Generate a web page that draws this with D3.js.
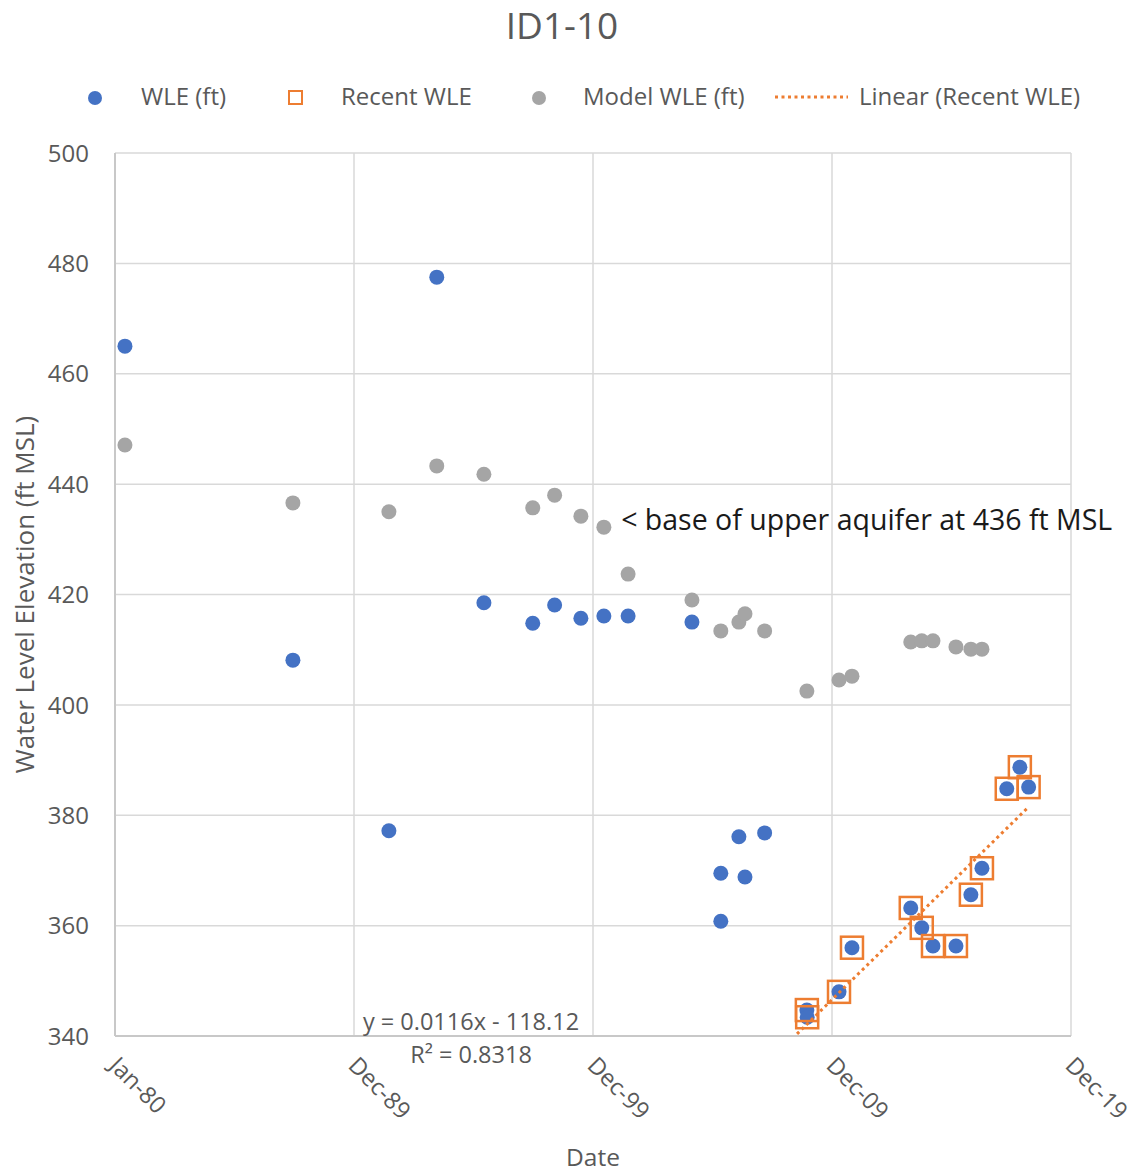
<!DOCTYPE html>
<html>
<head>
<meta charset="utf-8">
<script src="https://cdn.jsdelivr.net/npm/d3@7"></script>
<style>
  html, body { margin: 0; padding: 0; background: #fff; }
  svg { display: block; font-family: "Open Sans", "Noto Sans", sans-serif; }
</style>
</head>
<body>
<svg id="chart" width="1134" height="1173"></svg>
<script>
// WLE (ft) observations
const wleDates = [
  "1980-06-01", "1987-06-10", "1991-06-15", "1993-06-15", "1995-06-05", "1997-06-20",
  "1998-05-20", "1999-06-25", "2000-06-10", "2001-06-15", "2004-02-15", "2005-05-01",
  "2005-05-01", "2006-02-01", "2006-05-05", "2007-03-01", "2008-12-05", "2008-12-10",
  "2010-04-10", "2010-10-25", "2013-04-10", "2013-09-25", "2014-03-15", "2015-03-01",
  "2015-10-15", "2016-04-01", "2017-04-15", "2017-11-01", "2018-03-15"
];
const wleValues = [
  465.0, 408.1, 377.2, 477.5, 418.5, 414.8,
  418.1, 415.7, 416.1, 416.1, 415.0, 369.5,
  360.8, 376.1, 368.8, 376.8, 344.7, 343.4,
  348.0, 356.0, 363.2, 359.6, 356.3, 356.3,
  365.6, 370.4, 384.8, 388.7, 385.1
];

// Recent WLE (the orange squares)
const recentDates = [
  "2008-12-05", "2008-12-10", "2010-04-10", "2010-10-25", "2013-04-10", "2013-09-25",
  "2014-03-15", "2015-03-01", "2015-10-15", "2016-04-01", "2017-04-15", "2017-11-01",
  "2018-03-15"
];
const recentValues = [
  344.7, 343.4, 348.0, 356.0, 363.2, 359.6,
  356.3, 356.3, 365.6, 370.4, 384.8, 388.7,
  385.1
];

// Model WLE (ft)
const modelDates = [
  "1980-06-01", "1987-06-10", "1991-06-15", "1993-06-15", "1995-06-05", "1997-06-20",
  "1998-05-20", "1999-06-25", "2000-06-10", "2001-06-15", "2004-02-15", "2005-05-01",
  "2006-02-01", "2006-05-05", "2007-03-01", "2008-12-05", "2010-04-10", "2010-10-25",
  "2013-04-10", "2013-09-25", "2014-03-15", "2015-03-01", "2015-10-15", "2016-04-01"
];
const modelValues = [
  447.1, 436.6, 435.0, 443.3, 441.8, 435.7,
  438.0, 434.2, 432.2, 423.7, 419.0, 413.4,
  415.0, 416.5, 413.4, 402.5, 404.5, 405.2,
  411.4, 411.6, 411.6, 410.5, 410.1, 410.1
];

const yTicks = [340, 360, 380, 400, 420, 440, 460, 480, 500];
const xStart = "1980-01-01";
const xMajorDays = 3650;   // excel major unit
const xMajorCount = 4;
const trendBackDays = 150; // backward forecast on trendline
const equationLines = ["y = 0.0116x - 118.12", "R² = 0.8318"];
const note = "< base of upper aquifer at 436 ft MSL";
const noteAt = { date: "2001-03-01", value: 436 };

const colors = { wle: "#4472c4", recent: "#ed7d31", model: "#a5a5a5", grid: "#d9d9d9", text: "#595959" };

const parseDate = d3.timeParse("%Y-%m-%d");
const zip = (dates, values) => dates.map((d, i) => ({ date: parseDate(d), value: values[i] }));
const wle = zip(wleDates, wleValues);
const recent = zip(recentDates, recentValues);
const model = zip(modelDates, modelValues);

const margin = { top: 153, right: 63, bottom: 137, left: 115 };
const width = 1134, height = 1173;
const svg = d3.select("#chart");

const t0 = parseDate(xStart);
const xTickValues = d3.range(xMajorCount + 1).map(i => d3.timeDay.offset(t0, i * xMajorDays));

const x = d3.scaleTime()
  .domain([t0, xTickValues[xTickValues.length - 1]])
  .range([margin.left, width - margin.right]);
const y = d3.scaleLinear()
  .domain([340, 500])
  .range([height - margin.bottom, margin.top]);

// gridlines
svg.append("g")
  .selectAll("line")
  .data(yTicks)
  .join("line")
  .attr("x1", x.range()[0]).attr("x2", x.range()[1])
  .attr("y1", d => y(d)).attr("y2", d => y(d))
  .attr("stroke", colors.grid).attr("stroke-width", 1.5);

svg.append("g")
  .selectAll("line")
  .data(xTickValues)
  .join("line")
  .attr("x1", d => x(d)).attr("x2", d => x(d))
  .attr("y1", y.range()[0]).attr("y2", y.range()[1])
  .attr("stroke", colors.grid).attr("stroke-width", 1.5);

// axis lines
svg.append("line")
  .attr("x1", x.range()[0]).attr("x2", x.range()[1])
  .attr("y1", y(340)).attr("y2", y(340))
  .attr("stroke", "#c8c8c8").attr("stroke-width", 2);
svg.append("line")
  .attr("x1", x.range()[0]).attr("x2", x.range()[0])
  .attr("y1", y(340)).attr("y2", y(500))
  .attr("stroke", "#c8c8c8").attr("stroke-width", 2);

// y tick labels
svg.append("g")
  .selectAll("text")
  .data(yTicks)
  .join("text")
  .attr("x", 89)
  .attr("y", d => y(d))
  .attr("dy", "0.36em")
  .attr("text-anchor", "end")
  .attr("fill", colors.text)
  .attr("font-size", 24)
  .text(d => d);

// x tick labels, rotated
const fmt = d3.timeFormat("%b-%y");
svg.append("g")
  .selectAll("text")
  .data(xTickValues)
  .join("text")
  .attr("transform", d => `translate(${x(d) - 7},${y(340) + 31}) rotate(45)`)
  .attr("fill", colors.text)
  .attr("font-size", 23.5)
  .text(d => fmt(d));

// axis titles
svg.append("text")
  .attr("x", (x.range()[0] + x.range()[1]) / 2)
  .attr("y", 1166)
  .attr("text-anchor", "middle")
  .attr("fill", colors.text)
  .attr("font-size", 24.5)
  .text("Date");

svg.append("text")
  .attr("transform", `translate(34,${(y.range()[0] + y.range()[1]) / 2}) rotate(-90)`)
  .attr("text-anchor", "middle")
  .attr("fill", colors.text)
  .attr("font-size", 26)
  .text("Water Level Elevation (ft MSL)");

// title
svg.append("text")
  .attr("x", 562)
  .attr("y", 39)
  .attr("text-anchor", "middle")
  .attr("fill", colors.text)
  .attr("font-size", 37)
  .text("ID1-10");

// points
const r = 7.5;
svg.append("g")
  .selectAll("circle")
  .data(wle)
  .join("circle")
  .attr("cx", d => x(d.date)).attr("cy", d => y(d.value))
  .attr("r", r).attr("fill", colors.wle);

const sq = 22;
svg.append("g")
  .selectAll("rect")
  .data(recent)
  .join("rect")
  .attr("x", d => x(d.date) - sq / 2).attr("y", d => y(d.value) - sq / 2)
  .attr("width", sq).attr("height", sq)
  .attr("fill", "none").attr("stroke", colors.recent).attr("stroke-width", 2.5);

svg.append("g")
  .selectAll("circle")
  .data(model)
  .join("circle")
  .attr("cx", d => x(d.date)).attr("cy", d => y(d.value))
  .attr("r", r).attr("fill", colors.model);

// least squares trend on recent WLE
const xs = recent.map(d => +d.date), ys = recent.map(d => d.value);
const mx = d3.mean(xs), my = d3.mean(ys);
const slope = d3.sum(xs, (v, i) => (v - mx) * (ys[i] - my)) / d3.sum(xs, v => (v - mx) ** 2);
const intercept = my - slope * mx;
const trendX = [d3.timeDay.offset(d3.min(recent, d => d.date), -trendBackDays), d3.max(recent, d => d.date)];
svg.append("line")
  .attr("x1", x(trendX[0])).attr("y1", y(intercept + slope * +trendX[0]))
  .attr("x2", x(trendX[1])).attr("y2", y(intercept + slope * +trendX[1]))
  .attr("stroke", colors.recent).attr("stroke-width", 3)
  .attr("stroke-dasharray", "3 3.5");

// equation label
svg.append("g")
  .selectAll("text")
  .data(equationLines)
  .join("text")
  .attr("x", 471)
  .attr("y", (d, i) => 1030 + i * 33)
  .attr("text-anchor", "middle")
  .attr("fill", colors.text)
  .attr("font-size", 23.5)
  .text(d => d);

// annotation
svg.append("text")
  .attr("x", x(parseDate(noteAt.date)))
  .attr("y", y(noteAt.value) + 24)
  .attr("fill", "#1a1a1a")
  .attr("font-size", 28.5)
  .text(note);

// legend
const legendY = 97;
const legend = svg.append("g").attr("font-size", 24).attr("fill", colors.text);
legend.append("circle").attr("cx", 95).attr("cy", legendY + 1).attr("r", 7).attr("fill", colors.wle);
legend.append("text").attr("x", 141).attr("y", legendY + 8).text("WLE (ft)");
legend.append("rect").attr("x", 289).attr("y", legendY - 6).attr("width", 13).attr("height", 13)
  .attr("fill", "none").attr("stroke", colors.recent).attr("stroke-width", 2);
legend.append("text").attr("x", 341).attr("y", legendY + 8).text("Recent WLE");
legend.append("circle").attr("cx", 539).attr("cy", legendY + 1).attr("r", 7).attr("fill", colors.model);
legend.append("text").attr("x", 583).attr("y", legendY + 8).text("Model WLE (ft)");
legend.append("line").attr("x1", 775).attr("x2", 848).attr("y1", legendY).attr("y2", legendY)
  .attr("stroke", colors.recent).attr("stroke-width", 3).attr("stroke-dasharray", "3 3.5");
legend.append("text").attr("x", 859).attr("y", legendY + 8).text("Linear (Recent WLE)");
</script>
</body>
</html>
